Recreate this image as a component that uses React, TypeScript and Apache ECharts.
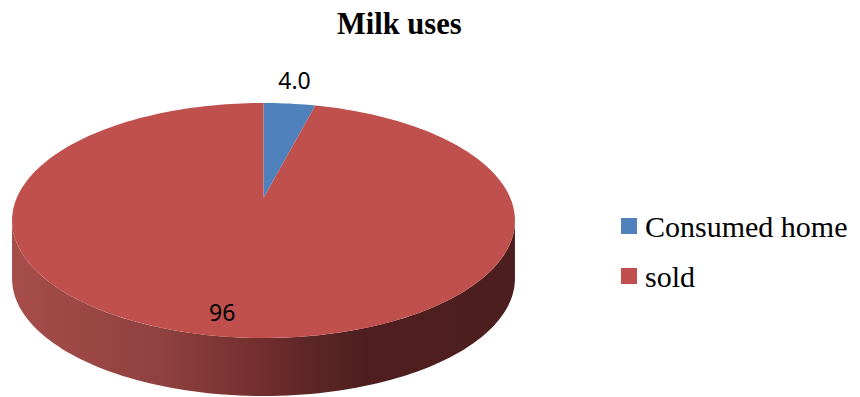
import React, { useEffect, useRef } from 'react';
import * as echarts from 'echarts';

const categories = ['Consumed home', 'sold'];
const values = [4, 96];
const labelTexts = ['4.0', '96'];
const colors = ['#4f81bd', '#c0504d'];

// layout (pixels)
const CX = 263.5;
const CY = 198;
const RX = 246.8;
const RY = 113.2;
const K = 0.1915; // perspective factor
const DEPTH = 58;
const LABEL_LAYOUT = [
  { r: 1.0, dx: 5, dy: -24 },
  { r: 0.85, dx: -10, dy: 0 },
];
const LEGEND_X = 621;
const LEGEND_Y = 218;
const LEGEND_STEP = 50;

const total = values.reduce((a, b) => a + b, 0);
const starts = values.map((_, i) => values.slice(0, i).reduce((a, b) => a + b, 0));

function project(theta: number, r: number, drop = 0): number[] {
  const u = Math.sin(theta) * r;
  const v = Math.cos(theta) * r;
  const d = 1 + K * v;
  return [CX + (RX * u) / d, CY - (RY * v) / d + drop];
}

function arc(a1: number, a2: number, drop = 0): number[][] {
  const n = Math.max(2, Math.ceil(((a2 - a1) / (2 * Math.PI)) * 240));
  const pts: number[][] = [];
  for (let i = 0; i <= n; i++) {
    pts.push(project(a1 + ((a2 - a1) * i) / n, 1, drop));
  }
  return pts;
}

const wallGradient = new echarts.graphic.LinearGradient(
  12,
  0,
  515,
  0,
  [
    { offset: 0, color: '#a64d4a' },
    { offset: 0.3, color: '#8f413f' },
    { offset: 0.5, color: '#712e2d' },
    { offset: 0.6, color: '#5c2525' },
    { offset: 0.7, color: '#4f1f1f' },
    { offset: 1, color: '#4d1e1e' },
  ],
  true
);

function makeRenderItem(idx: number) {
  return (_params: any, api: any) => {
    const val = api.value(0) as number;
    const a1 = (starts[idx] / total) * Math.PI * 2;
    const a2 = a1 + (val / total) * Math.PI * 2;
    const children: any[] = [];
    const ta = Math.acos(-K);
    const tb = Math.PI * 2 - ta;
    const lo = Math.max(a1, ta);
    const hi = Math.min(a2, tb);
    if (lo < hi) {
      const topArc = arc(lo, hi, 0);
      const botArc = arc(lo, hi, DEPTH).reverse();
      children.push({
        type: 'polygon',
        shape: { points: topArc.concat(botArc) },
        style: { fill: wallGradient, stroke: null },
      });
    }
    children.push({
      type: 'polygon',
      shape: { points: [[CX, CY]].concat(arc(a1, a2, 0)) },
      style: { fill: colors[idx], stroke: null },
    });
    const mid = (a1 + a2) / 2;
    const lay = LABEL_LAYOUT[idx];
    const p = project(mid, lay.r, 0);
    children.push({
      type: 'text',
      style: {
        text: labelTexts[idx],
        x: p[0] + lay.dx,
        y: p[1] + lay.dy,
        align: 'center',
        verticalAlign: 'middle',
        fontSize: 23,
        fontFamily: 'Noto Sans',
        fill: '#000',
      },
    });
    return { type: 'group', children };
  };
}

export default function App() {
  const ref = useRef<HTMLDivElement>(null);
  useEffect(() => {
    if (!ref.current) return;
    const chart = echarts.init(ref.current, null, { renderer: 'svg' });
    const legendElements: any[] = [];
    categories.forEach((name, i) => {
      legendElements.push({
        type: 'rect',
        left: LEGEND_X,
        top: LEGEND_Y + LEGEND_STEP * i,
        shape: { width: 16, height: 16 },
        style: { fill: colors[i] },
      });
      legendElements.push({
        type: 'text',
        x: LEGEND_X + 24,
        y: LEGEND_Y + 8 + LEGEND_STEP * i,
        style: {
          text: name,
          fill: '#000',
          font: '30px "Liberation Serif", "Times New Roman", serif',
          verticalAlign: 'middle',
          align: 'left',
        },
      });
    });
    chart.setOption({
      animation: false,
      backgroundColor: '#ffffff',
      title: {
        text: 'Milk uses',
        left: 337,
        top: 8,
        padding: 0,
        textStyle: {
          fontFamily: 'Liberation Serif',
          fontWeight: 'bold',
          fontSize: 30.5,
          color: '#000',
        },
      },
      graphic: legendElements,
      series: categories.map((name, i) => ({
        type: 'custom',
        name,
        coordinateSystem: 'none',
        itemStyle: { color: colors[i] },
        data: [values[i]],
        renderItem: makeRenderItem(i),
      })),
    });
    return () => chart.dispose();
  }, []);
  return (
    <div
      ref={ref}
      style={{ position: 'fixed', left: 0, top: 0, width: 860, height: 397 }}
    />
  );
}
